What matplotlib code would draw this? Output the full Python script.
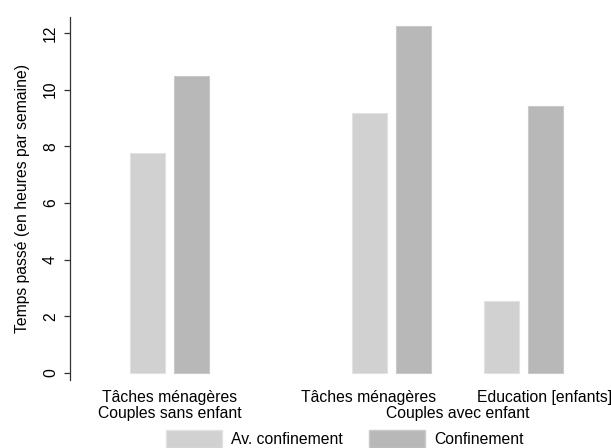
import matplotlib.pyplot as plt
import matplotlib.patches as mpatches

plt.rcParams['font.family'] = ['Liberation Sans', 'DejaVu Sans']

# Data
groups = ['Couples sans enfant', 'Couples avec enfant']
tasks = ['Tâches ménagères', 'Tâches ménagères', 'Education [enfants]']
avant = [7.77, 9.18, 2.54]
confinement = [10.48, 12.25, 9.42]
series_names = ['Av. confinement', 'Confinement']
yticks = [0, 2, 4, 6, 8, 10, 12]

# Layout positions (x in units of the group spacing)
centers = [0, 1.68, 2.68]
task_label_x = [0, 1.504, 2.837]
group_label_x = [0, 2.18]
offset = 0.167
width = 0.265
light, dark = '#d1d1d1', '#b8b8b8'
fs = 11.3

fig = plt.figure(figsize=(6.11, 4.48), dpi=100)
ax = fig.add_axes([70 / 611, (448 - 380) / 448, (600 - 70) / 611, (380 - 17) / 448])

ax.bar([c - offset for c in centers], avant, width=width, color=light,
       edgecolor='#e2e2e2', linewidth=0.8)
ax.bar([c + offset for c in centers], confinement, width=width, color=dark,
       edgecolor='#cacaca', linewidth=0.8)

ax.set_xlim(-0.754, 3.26)
ax.set_ylim(-0.25, 12.56)
ax.set_yticks(yticks)
ax.set_yticklabels([str(t) for t in yticks], rotation=90, va='center', fontsize=fs)
ax.tick_params(axis='y', length=4.3, width=0.9, color='#333333', pad=4.3)
ax.set_xticks([])
for s in ['top', 'right', 'bottom']:
    ax.spines[s].set_visible(False)
ax.spines['left'].set_color('#333333')
ax.spines['left'].set_linewidth(0.9)
ax.set_ylabel('Temps passé (en heures par semaine)', fontsize=fs, labelpad=9.5)

# Category labels under bars
for x, t in zip(task_label_x, tasks):
    ax.text(x, -0.6, t, ha='center', va='top', fontsize=fs)
for x, g in zip(group_label_x, groups):
    ax.text(x, -1.15, g, ha='center', va='top', fontsize=fs)

handles = [mpatches.Patch(facecolor=light, edgecolor='#e2e2e2', label=series_names[0]),
           mpatches.Patch(facecolor=dark, edgecolor='#cacaca', label=series_names[1])]
fig.legend(handles=handles, loc='center left', bbox_to_anchor=(151.5 / 611, 1 - 439 / 448),
           ncol=2, frameon=False, fontsize=fs, handlelength=3.57, handleheight=1.3,
           columnspacing=1.65, handletextpad=0.6)

fig.savefig('out.png', dpi=100)
